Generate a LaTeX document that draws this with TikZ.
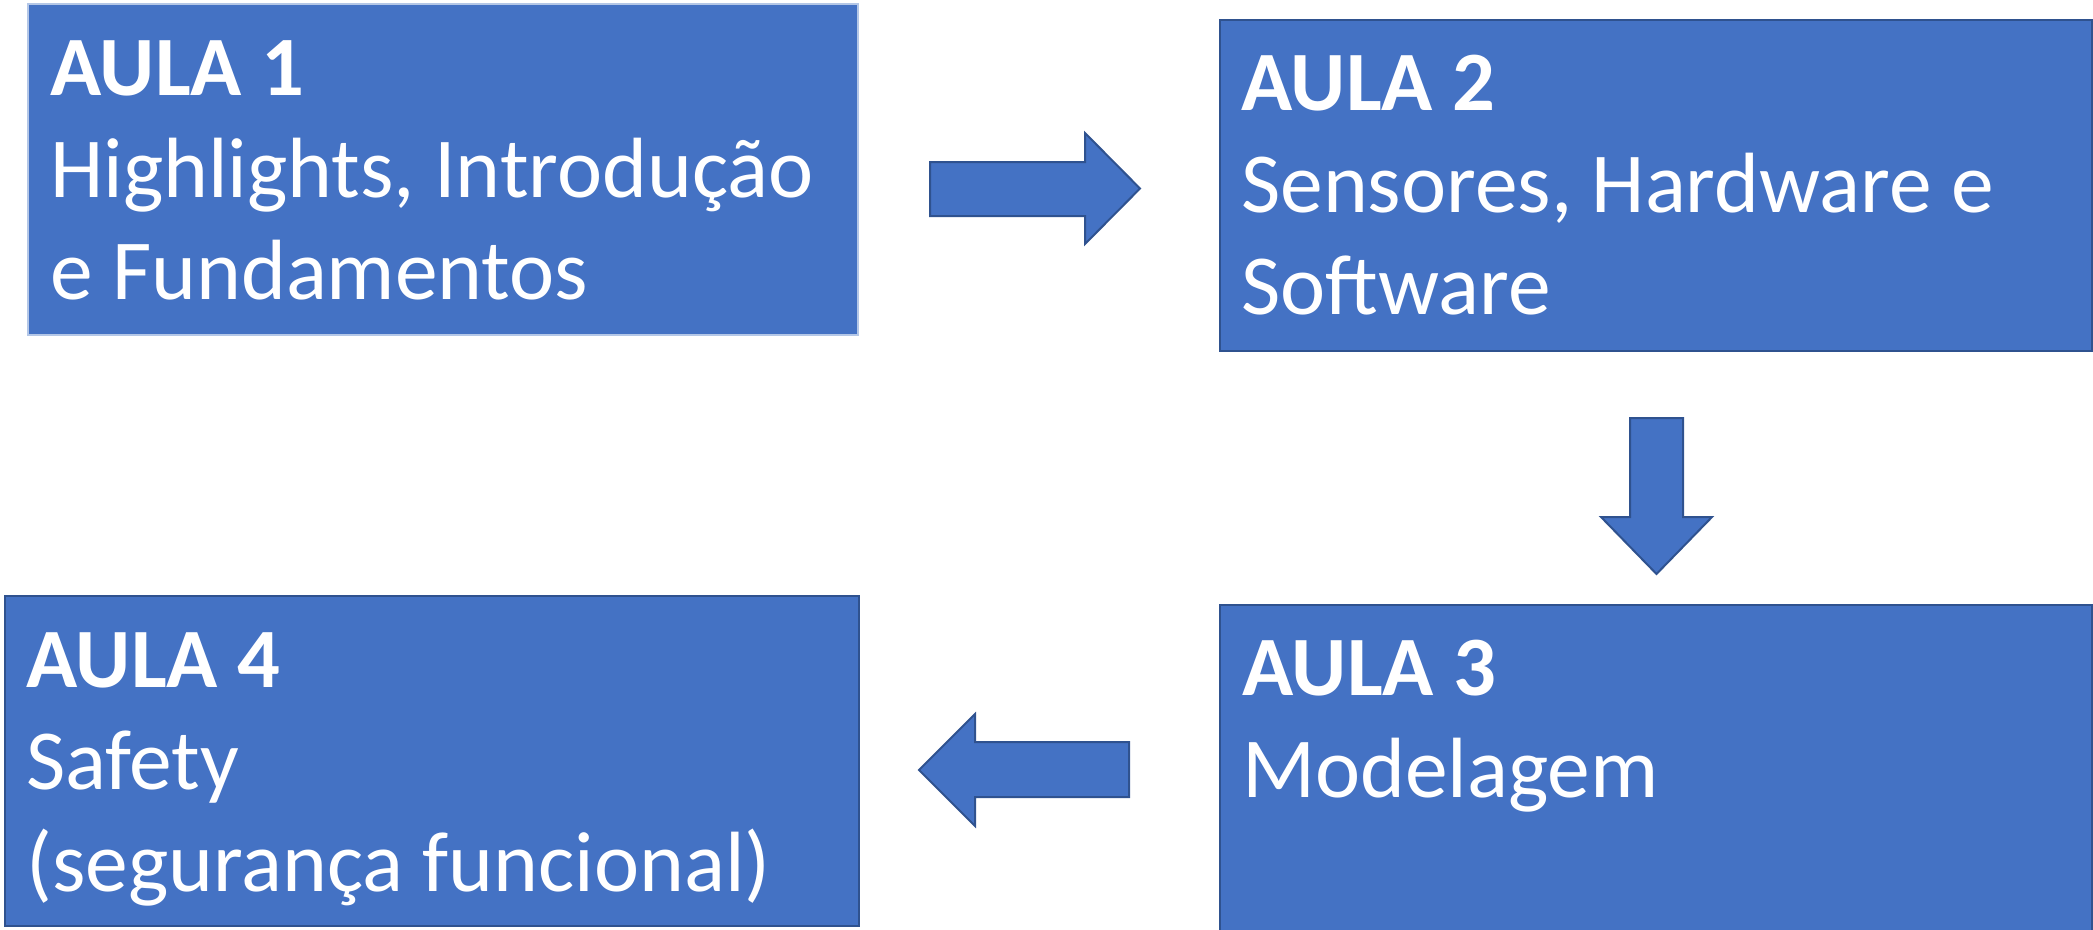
\documentclass[tikz,border=0pt]{standalone}
\usepackage{fontspec}
\setmainfont{Carlito}
\definecolor{boxfill}{HTML}{4472C4}
\definecolor{boxline}{HTML}{2F528F}
\definecolor{lightline}{HTML}{B4C7E7}
\begin{document}
\begin{tikzpicture}[x=1pt,y=-1pt,
  box/.style={draw=boxline,line width=2pt,fill=boxfill},
  lightbox/.style={draw=lightline,line width=2.5pt,fill=boxfill},
  blockarrow/.style={draw=boxline,line width=2pt,fill=boxfill,line join=miter},
  txt/.style={anchor=base west,inner sep=0pt,text=white,font=\fontsize{85.5}{102}\selectfont},
  ttl/.style={txt,font=\fontsize{84.5}{102}\selectfont\bfseries}]
\useasboundingbox (0,0) rectangle (2093,929);
% boxes
\draw[lightbox] (28,4) rectangle (858,335);
\draw[box] (1220,20) rectangle (2092,351);
\draw[box] (1220,605) rectangle (2092,940);
\draw[box] (5,596) rectangle (859,926);
% texts
\node[ttl] (t1) at (50,95) {AULA 1};
\node[txt] (l1a) at (50,197) {Highlights, Introdução};
\node[txt] (l1b) at (50,299) {e Fundamentos};
\node[ttl] (t2) at (1241,110) {AULA 2};
\node[txt] (l2a) at (1241,212) {Sensores, Hardware e};
\node[txt] (l2b) at (1241,314) {Software};
\node[ttl] (t3) at (1242,695) {AULA 3};
\node[txt] (l3a) at (1242,797) {Modelagem};
\node[ttl] (t4) at (26,687) {AULA 4};
\node[txt] (l4a) at (26,789) {Safety};
\node[txt] (l4b) at (26,891) {(segurança funcional)};
% block arrows
\draw[blockarrow] (930,162) -- (1085,162) -- (1085,133) -- (1140,188.5) -- (1085,244) -- (1085,216) -- (930,216) -- cycle;
\draw[blockarrow] (1630,418) -- (1683,418) -- (1683,517) -- (1712,517) -- (1656.5,574) -- (1601,517) -- (1630,517) -- cycle;
\draw[blockarrow] (1129,742) -- (975,742) -- (975,714) -- (919,770) -- (975,826) -- (975,797) -- (1129,797) -- cycle;
\end{tikzpicture}
\end{document}
